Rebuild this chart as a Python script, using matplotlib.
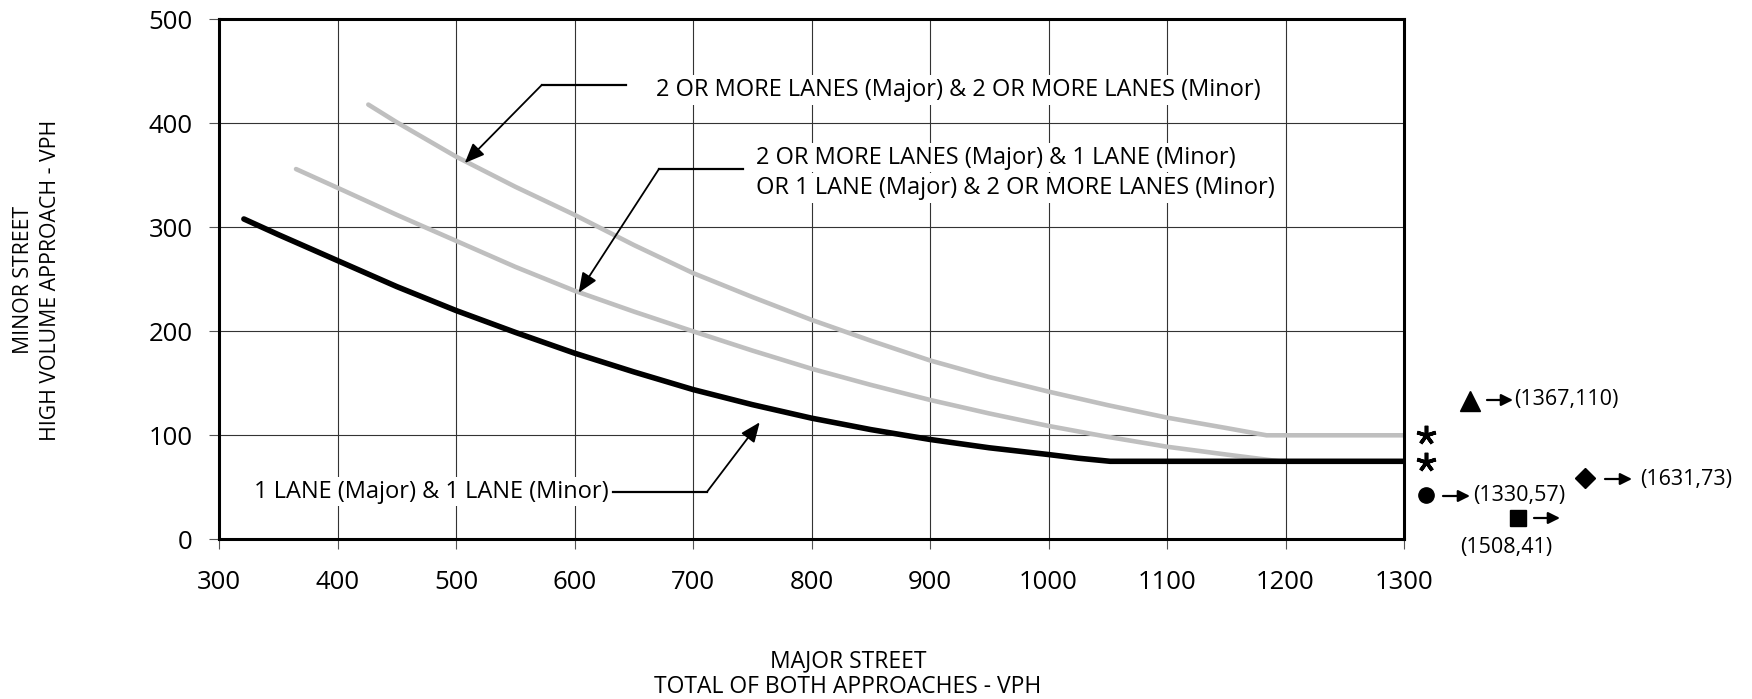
import matplotlib
matplotlib.use("Agg")
import matplotlib.pyplot as plt

plt.rcParams['font.family'] = ['Open Sans', 'DejaVu Sans']

# ---------------- data ----------------
one_one_x = [321, 350, 400, 450, 500, 550, 600, 650, 700, 750, 800, 850, 900, 950, 1000, 1025, 1052, 1300]
one_one_y = [308, 293, 268, 243, 220, 199, 179, 161, 144, 129.5, 116.5, 105.5, 96, 88, 81.5, 78, 75, 75]

two_one_x = [365, 400, 450, 500, 550, 600, 650, 700, 750, 800, 850, 900, 950, 1000, 1050, 1100, 1150, 1195, 1300]
two_one_y = [356, 338, 312, 287, 262, 239, 219, 200, 181.5, 164, 148.5, 134, 121, 109, 98.5, 89, 81.5, 75, 75]

two_two_x = [426, 450, 500, 550, 600, 650, 700, 750, 800, 850, 900, 950, 1000, 1050, 1100, 1150, 1184, 1300]
two_two_y = [418, 401, 368, 339, 312, 283, 256, 233, 211, 191, 172, 156, 142, 129, 117, 107, 100, 100]

x_ticks = [300, 400, 500, 600, 700, 800, 900, 1000, 1100, 1200, 1300]
y_ticks = [0, 100, 200, 300, 400, 500]

label_two_two = "2 OR MORE LANES (Major) & 2 OR MORE LANES (Minor)"
label_two_one = ["2 OR MORE LANES (Major) & 1 LANE (Minor)",
                 "OR 1 LANE (Major) & 2 OR MORE LANES (Minor)"]
label_one_one = "1 LANE (Major) & 1 LANE (Minor)"

offchart_major = [1367, 1330, 1631, 1508]
offchart_minor = [110, 57, 73, 41]

x_title = ["MAJOR STREET", "TOTAL OF BOTH APPROACHES - VPH"]
y_title = ["MINOR STREET", "HIGH VOLUME APPROACH - VPH"]

# ---------------- figure ----------------
W, H = 1752, 699
fig = plt.figure(figsize=(W / 100, H / 100), dpi=100)
ax = fig.add_axes([219 / W, 1 - 539.3 / H, (1404 - 219) / W, (539.3 - 19.3) / H])


def fx(px):
    return px / W


def fy(py):
    return 1 - py / H


GRAY = '#bfbfbf'
ax.plot(two_one_x, two_one_y, color=GRAY, lw=3.3, solid_capstyle='round', zorder=3)
ax.plot(two_two_x, two_two_y, color=GRAY, lw=3.3, solid_capstyle='round', zorder=3)
ax.plot(one_one_x, one_one_y, color='black', lw=4.0, solid_capstyle='round', zorder=4)

ax.set_xlim(300, 1300)
ax.set_ylim(0, 500)
ax.set_xticks(x_ticks)
ax.set_yticks(y_ticks)
ax.grid(True, color='#333333', lw=0.8, zorder=1)
ax.set_axisbelow(True)
for s in ax.spines.values():
    s.set_linewidth(2.2)
    s.set_color('black')
    s.set_zorder(6)
ax.tick_params(axis='both', direction='out', length=7, width=0.8, color='#555555', labelsize=18.5)
ax.tick_params(axis='x', pad=15)
ax.tick_params(axis='y', pad=12)

# ---------------- annotations inside ----------------
txt_kw = dict(fontsize=17, color='black', zorder=5,
              bbox=dict(facecolor='white', edgecolor='none', pad=2))
arrow_kw = dict(arrowstyle='-|>,head_length=0.6,head_width=0.25', color='black',
                lw=1.3, shrinkA=0, shrinkB=0, mutation_scale=20)

# top label
ax.text(668.7, 432, label_two_two, ha='left', va='center', **txt_kw)
ax.plot([572.5, 643.4], [437, 437], color='black', lw=1.6, zorder=5)
ax.annotate('', xy=(507.4, 361.8), xytext=(572.5, 437), arrowprops=arrow_kw, zorder=5)

# middle label
ax.text(753.4, 367, label_two_one[0], ha='left', va='center', **txt_kw)
ax.text(753.4, 338, label_two_one[1], ha='left', va='center', **txt_kw)
ax.plot([671.4, 742.1], [356.3, 356.3], color='black', lw=1.6, zorder=5)
ax.annotate('', xy=(603.5, 237.1), xytext=(671.4, 356.3), arrowprops=arrow_kw, zorder=5)

# bottom label
ax.text(329.2, 45.9, label_one_one, ha='left', va='center', **txt_kw)
ax.plot([632.7, 712], [45.9, 45.9], color='black', lw=1.6, zorder=5)
ax.annotate('', xy=(756.3, 112.5), xytext=(712, 45.9), arrowprops=arrow_kw, zorder=5)

# ---------------- right side symbols ----------------
small_arrow = dict(arrowstyle='-|>,head_length=0.7,head_width=0.35', color='black',
                   lw=1.6, shrinkA=0, shrinkB=0, mutation_scale=10)


def sym(px, py, marker, ms, **kw):
    fig.add_artist(plt.Line2D([fx(px)], [fy(py)], marker=marker, ms=ms, color='black',
                              linestyle='none', transform=fig.transFigure, **kw))


def farrow(x0, x1, py):
    fig.add_artist(matplotlib.patches.FancyArrowPatch((fx(x0), fy(py)), (fx(x1), fy(py)),
                                                      transform=fig.transFigure, **small_arrow))


def lbl(i):
    return f"({offchart_major[i]},{offchart_minor[i]})"


SMALL = 15.5

# stars at the curve ends
sym(1426, 435, (5, 2), 14, mew=2.6)
sym(1426, 462, (5, 2), 14, mew=2.6)

# triangle
sym(1470, 401, '^', 15)
farrow(1487, 1513, 400)
fig.text(fx(1514), fy(399), lbl(0), fontsize=SMALL, ha='left', va='center')

# circle
sym(1426, 495, 'o', 11)
farrow(1443, 1470, 496)
fig.text(fx(1473), fy(496), lbl(1), fontsize=SMALL, ha='left', va='center')

# diamond
sym(1585, 478, 'D', 10)
farrow(1605, 1632, 479)
fig.text(fx(1640), fy(479), lbl(2), fontsize=SMALL, ha='left', va='center')

# square
sym(1518, 518, 's', 11)
farrow(1534, 1560, 518)
fig.text(fx(1506), fy(548), lbl(3), fontsize=SMALL, ha='center', va='center')

# ---------------- axis titles ----------------
fig.text(fx(848), fy(661), x_title[0], fontsize=16.5, ha='center', va='center')
fig.text(fx(848), fy(687), x_title[1], fontsize=16.5, ha='center', va='center')
fig.text(fx(24), fy(280), y_title[0], fontsize=15.3, ha='center', va='center', rotation=90)
fig.text(fx(51), fy(280), y_title[1], fontsize=15.3, ha='center', va='center', rotation=90)

fig.savefig('out.png', dpi=100, facecolor='white')
